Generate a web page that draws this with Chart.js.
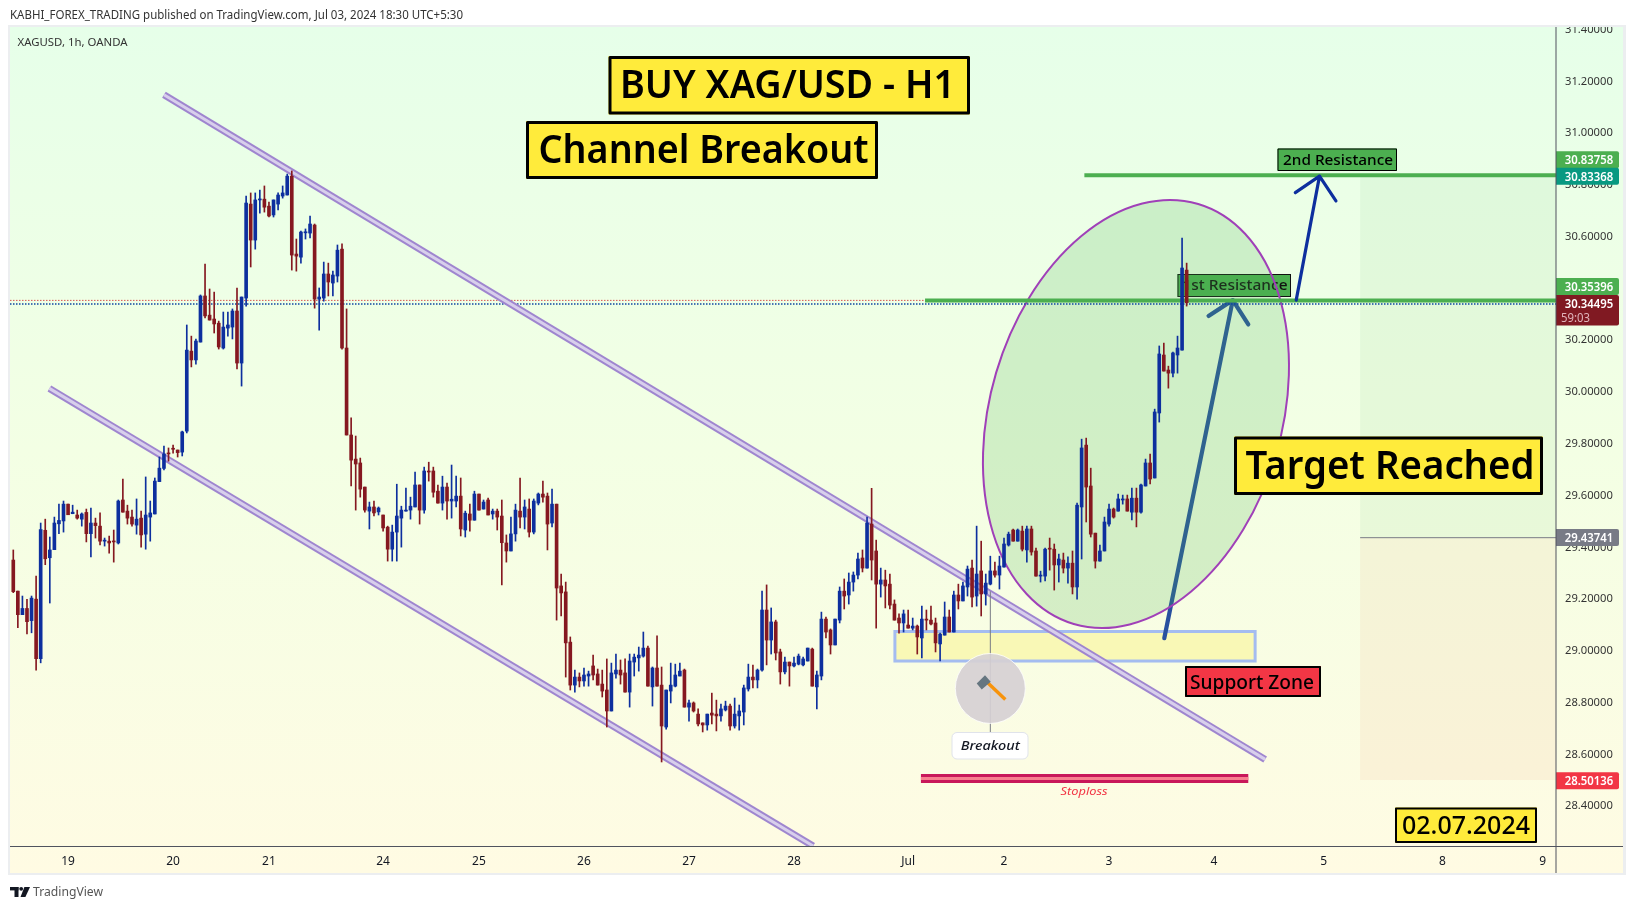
<!DOCTYPE html>
<html>
<head>
<meta charset="utf-8">
<title>XAGUSD 1h</title>
<script src="https://cdn.jsdelivr.net/npm/chart.js@4/dist/chart.umd.js"></script>
<style>
  html, body { margin: 0; padding: 0; background: #fff; }
  canvas { display: block; }
</style>
</head>
<body>
<canvas id="priceChart" width="1634" height="909"></canvas>
<script>
// candles, hourly
const opens = [
  29.351,29.231,29.140,29.164,29.117,29.200,28.970,29.466,29.360,29.391,
  29.491,29.502,29.567,29.530,29.525,29.509,29.535,29.453,29.494,29.482,
  29.424,29.424,29.424,29.417,29.583,29.540,29.517,29.486,29.513,29.451,
  29.517,29.529,29.654,29.705,29.764,29.782,29.776,29.768,29.849,30.158,
  30.124,30.193,30.371,30.297,30.282,30.266,30.170,30.247,30.251,30.313,
  30.112,30.363,30.726,30.587,30.742,30.745,30.718,30.684,30.726,30.757,
  30.761,30.834,30.533,30.521,30.615,30.614,30.645,30.359,30.363,30.456,
  30.421,30.448,30.552,30.170,29.834,29.741,29.726,29.633,29.540,29.556,
  29.537,29.525,29.478,29.393,29.459,29.513,29.540,29.544,29.556,29.641,
  29.544,29.695,29.695,29.617,29.571,29.633,29.579,29.579,29.598,29.467,
  29.529,29.505,29.606,29.548,29.583,29.529,29.540,29.521,29.417,29.386,
  29.452,29.540,29.517,29.548,29.459,29.571,29.606,29.598,29.494,29.567,
  29.251,29.228,29.034,28.868,28.899,28.884,28.903,28.942,28.911,28.872,
  28.849,28.768,28.911,28.926,28.915,28.841,28.957,28.973,28.980,29.011,
  28.861,28.934,28.868,28.706,28.845,28.864,28.903,28.926,28.783,28.799,
  28.756,28.722,28.714,28.760,28.756,28.749,28.772,28.787,28.710,28.749,
  28.764,28.853,28.899,28.888,28.926,29.158,29.042,29.112,28.996,28.919,
  28.957,28.942,28.949,28.946,28.961,29.007,28.861,28.903,29.123,29.081,
  29.023,29.119,29.231,29.216,29.266,29.293,29.359,29.320,29.490,29.386,
  29.258,29.274,29.258,29.181,29.127,29.108,29.100,29.088,29.096,29.050,
  29.123,29.119,29.108,29.027,29.061,29.131,29.073,29.216,29.193,29.247,
  29.320,29.212,29.309,29.220,29.258,29.309,29.293,29.324,29.409,29.467,
  29.424,29.463,29.390,29.471,29.386,29.289,29.289,29.397,29.393,29.332,
  29.351,29.320,29.339,29.247,29.556,29.795,29.637,29.455,29.347,29.386,
  29.490,29.548,29.540,29.583,29.587,29.536,29.590,29.536,29.637,29.726,
  29.668,29.919,30.143,30.085,30.073,30.143,30.162,30.471
];
const closes = [
  29.229,29.140,29.164,29.113,29.204,28.970,29.469,29.356,29.390,29.494,
  29.504,29.567,29.526,29.536,29.513,29.529,29.453,29.494,29.484,29.424,
  29.428,29.417,29.421,29.579,29.536,29.513,29.490,29.509,29.448,29.525,
  29.533,29.656,29.706,29.761,29.761,29.779,29.766,29.846,30.162,30.124,
  30.197,30.371,30.294,30.278,30.263,30.174,30.251,30.259,30.313,30.112,
  30.367,30.730,30.587,30.742,30.745,30.714,30.680,30.742,30.761,30.769,
  30.834,30.529,30.525,30.618,30.619,30.649,30.359,30.367,30.456,30.425,
  30.452,30.548,30.170,29.834,29.737,29.722,29.625,29.544,29.556,29.533,
  29.552,29.475,29.393,29.459,29.521,29.544,29.544,29.559,29.641,29.544,
  29.695,29.691,29.613,29.571,29.633,29.579,29.586,29.598,29.471,29.532,
  29.505,29.606,29.544,29.575,29.525,29.540,29.517,29.418,29.386,29.452,
  29.544,29.517,29.556,29.459,29.579,29.606,29.594,29.490,29.567,29.243,
  29.224,29.031,28.868,28.899,28.884,28.907,28.911,28.907,28.868,28.845,
  28.768,28.915,28.926,28.907,28.841,28.961,28.976,28.984,29.011,28.864,
  28.934,28.864,28.710,28.849,28.868,28.907,28.922,28.783,28.799,28.768,
  28.718,28.714,28.756,28.752,28.749,28.776,28.787,28.710,28.756,28.768,
  28.857,28.899,28.888,28.926,29.158,29.042,29.112,28.992,28.919,28.957,
  28.942,28.953,28.980,28.969,29.011,28.864,28.907,29.123,29.073,29.023,
  29.123,29.231,29.212,29.266,29.293,29.355,29.320,29.494,29.351,29.258,
  29.274,29.251,29.177,29.119,29.108,29.143,29.088,29.096,29.054,29.123,
  29.119,29.104,29.031,29.065,29.131,29.073,29.216,29.193,29.251,29.316,
  29.208,29.297,29.220,29.262,29.309,29.293,29.328,29.413,29.451,29.424,
  29.467,29.393,29.471,29.382,29.289,29.293,29.393,29.393,29.332,29.355,
  29.320,29.339,29.247,29.563,29.784,29.633,29.451,29.347,29.386,29.498,
  29.548,29.517,29.587,29.587,29.540,29.590,29.536,29.641,29.726,29.664,
  29.923,30.147,30.081,30.073,30.151,30.170,30.479,30.345
];
const highs = [
  29.390,29.231,29.212,29.199,29.212,29.289,29.494,29.509,29.440,29.517,
  29.567,29.579,29.567,29.563,29.544,29.533,29.548,29.552,29.513,29.533,
  29.436,29.444,29.467,29.583,29.664,29.563,29.544,29.587,29.540,29.672,
  29.579,29.668,29.749,29.791,29.784,29.795,29.776,29.849,30.259,30.216,
  30.205,30.375,30.494,30.398,30.386,30.274,30.309,30.309,30.321,30.402,
  30.367,30.757,30.769,30.769,30.780,30.796,30.734,30.742,30.769,30.796,
  30.842,30.854,30.591,30.622,30.630,30.680,30.649,30.402,30.502,30.498,
  30.467,30.568,30.572,30.321,29.900,29.830,29.745,29.633,29.575,29.579,
  29.556,29.525,29.482,29.486,29.644,29.559,29.629,29.594,29.691,29.641,
  29.710,29.729,29.710,29.641,29.675,29.648,29.718,29.675,29.668,29.540,
  29.567,29.617,29.606,29.583,29.590,29.548,29.548,29.583,29.448,29.517,
  29.567,29.668,29.583,29.587,29.587,29.610,29.656,29.610,29.625,29.567,
  29.297,29.266,29.054,28.926,28.915,28.934,28.922,28.984,28.930,28.926,
  28.969,28.953,28.988,28.965,28.969,28.988,28.988,29.015,29.073,29.019,
  28.938,29.058,28.938,28.849,28.953,28.949,28.953,28.930,28.810,28.803,
  28.776,28.722,28.756,28.837,28.810,28.795,28.806,28.795,28.818,28.791,
  28.868,28.949,28.945,28.930,29.231,29.255,29.166,29.119,29.007,28.976,
  28.957,28.976,28.988,28.976,29.011,29.011,28.922,29.150,29.131,29.085,
  29.123,29.247,29.278,29.301,29.305,29.378,29.390,29.517,29.628,29.428,
  29.320,29.312,29.297,29.197,29.143,29.158,29.158,29.127,29.100,29.173,
  29.158,29.173,29.127,29.069,29.189,29.158,29.231,29.258,29.266,29.328,
  29.351,29.482,29.424,29.297,29.366,29.343,29.366,29.436,29.459,29.471,
  29.471,29.482,29.482,29.482,29.397,29.308,29.397,29.436,29.413,29.374,
  29.378,29.363,29.386,29.571,29.818,29.822,29.706,29.455,29.409,29.517,
  29.567,29.552,29.606,29.602,29.602,29.629,29.629,29.644,29.741,29.760,
  29.934,30.178,30.189,30.100,30.154,30.216,30.595,30.498
];
const lows = [
  29.225,29.090,29.140,29.066,29.070,28.926,28.954,29.333,29.185,29.391,
  29.453,29.459,29.526,29.530,29.509,29.482,29.421,29.363,29.436,29.409,
  29.405,29.378,29.343,29.413,29.536,29.490,29.482,29.451,29.401,29.393,
  29.424,29.529,29.654,29.699,29.733,29.764,29.749,29.753,29.842,30.097,
  30.108,30.193,30.286,30.278,30.228,30.166,30.166,30.216,30.205,30.089,
  30.023,30.332,30.483,30.552,30.691,30.695,30.676,30.676,30.703,30.749,
  30.761,30.471,30.467,30.498,30.591,30.595,30.324,30.239,30.351,30.371,
  30.371,30.425,30.166,29.834,29.637,29.544,29.594,29.536,29.471,29.521,
  29.525,29.463,29.347,29.347,29.347,29.401,29.540,29.509,29.556,29.490,
  29.532,29.656,29.594,29.571,29.544,29.509,29.513,29.556,29.444,29.440,
  29.463,29.505,29.544,29.548,29.525,29.509,29.467,29.255,29.343,29.386,
  29.424,29.475,29.471,29.440,29.452,29.564,29.575,29.390,29.479,29.119,
  29.135,28.899,28.849,28.841,28.861,28.864,28.864,28.888,28.868,28.822,
  28.706,28.768,28.895,28.872,28.841,28.783,28.903,28.922,28.976,28.864,
  28.787,28.864,28.571,28.698,28.799,28.861,28.903,28.783,28.729,28.764,
  28.710,28.687,28.694,28.718,28.691,28.729,28.768,28.694,28.702,28.694,
  28.714,28.845,28.857,28.857,28.922,28.946,28.988,28.965,28.872,28.911,
  28.864,28.938,28.946,28.942,28.961,28.864,28.776,28.888,29.050,28.988,
  29.023,29.108,29.162,29.181,29.231,29.278,29.305,29.320,29.274,29.088,
  29.208,29.166,29.162,29.119,29.069,29.073,29.088,29.081,28.988,28.973,
  29.081,29.100,28.996,28.961,29.061,29.073,29.073,29.162,29.193,29.212,
  29.170,29.173,29.135,29.177,29.255,29.285,29.239,29.324,29.405,29.424,
  29.424,29.386,29.343,29.370,29.289,29.266,29.270,29.312,29.235,29.266,
  29.301,29.262,29.220,29.200,29.355,29.498,29.440,29.320,29.347,29.386,
  29.482,29.513,29.540,29.567,29.540,29.506,29.479,29.532,29.637,29.645,
  29.668,29.884,30.081,30.015,30.058,30.073,30.162,30.332
];

// x axis: day labels and the bar they sit on
const dayTicks  = [12, 35, 56, 81, 102, 125, 148, 171, 196, 217, 240, 263, 287, 313, 335];
const dayLabels = ['19','20','21','24','25','26','27','28','Jul','2','3','4','5','8','9'];

// drawings, in bar number / price
const upperChannel = [[33.0, 31.148], [274.2, 28.581]];
const lowerChannel = [[7.9, 30.014], [175.2, 28.2465]];
const resistance1  = [[199.7, 30.35396], [337.9, 30.35396]];
const resistance2  = [[234.6, 30.83758], [337.9, 30.83758]];
const stopLine     = [[198.8, 28.507], [270.5, 28.507]];
const lastLineRed  = 30.354;
const lastLineBlue = 30.34;
const firstBar = -0.72, lastBar = 337.9;
const minPrice = 28.2465, maxPrice = 31.41;

const longZoneStart = 295;
const targetPrice = 30.83368, entryPrice = 29.43741, stopPrice = 28.50136;
const supportZone = [193.1, 272, 29.075, 28.961];
const breakoutBar = 214, breakoutPrice = 28.855, breakoutStemTop = 29.23;
const circle = [245.9, 29.915, 31.94, 0.846];
const arrow1 = [[252.1, 29.049], [267.1, 30.355], [261.8, 30.294], [270.5, 30.261]];
const arrow2 = [[281, 30.355], [286.1, 30.834], [280.8, 30.770], [289.7, 30.738]];

const UP = '#0d2f9e', DOWN = '#851820';
const FONT = '"Noto Sans", sans-serif';

function pts(seg) { return seg.map(p => ({ x: p[0], y: p[1] })); }
function line(seg, color, width, dash) {
  return { type: 'line', data: pts(seg), borderColor: color, borderWidth: width, borderDash: dash || [],
           pointRadius: 0, order: 5, borderCapStyle: 'butt' };
}

// text squeezed/stretched to the width measured on the picture
function fit(ctx, text, cx, cy, font, width, color) {
  ctx.save();
  ctx.font = font;
  ctx.fillStyle = color;
  ctx.textAlign = 'center';
  ctx.textBaseline = 'middle';
  const k = width / ctx.measureText(text).width;
  // Noto rides high on a middle baseline
  ctx.translate(cx, cy + parseFloat(font.match(/([\d.]+)px/)[1]) * 0.08);
  ctx.scale(k, 1);
  ctx.fillText(text, 0, 0);
  ctx.restore();
}
function box(ctx, x1, y1, x2, y2, fill, stroke, lw) {
  ctx.fillStyle = fill;
  ctx.fillRect(x1, y1, x2 - x1, y2 - y1);
  if (lw) {
    ctx.strokeStyle = stroke;
    ctx.lineWidth = lw;
    ctx.strokeRect(x1 + lw / 2, y1 + lw / 2, x2 - x1 - lw, y2 - y1 - lw);
  }
}
function arrow(chart, a, color, w) {
  const ctx = chart.ctx, X = chart.scales.x, Y = chart.scales.y;
  const p = a.map(q => [X.getPixelForValue(q[0]), Y.getPixelForValue(q[1])]);
  ctx.strokeStyle = color;
  ctx.lineWidth = w;
  ctx.lineCap = 'round';
  ctx.lineJoin = 'round';
  ctx.beginPath();
  ctx.moveTo(p[0][0], p[0][1]); ctx.lineTo(p[1][0], p[1][1]);
  ctx.moveTo(p[2][0], p[2][1]); ctx.lineTo(p[1][0], p[1][1]); ctx.lineTo(p[3][0], p[3][1]);
  ctx.stroke();
  ctx.lineCap = 'butt';
}
function tag(chart, text, y, h, color) {
  const ctx = chart.ctx;
  ctx.fillStyle = color;
  ctx.beginPath();
  ctx.roundRect(1556, y - h / 2, 63, h, [0, 2, 2, 0]);
  ctx.fill();
  fit(ctx, text, 1589, y, '600 12px ' + FONT, 48.5, '#fff');
}

const drawings = {
  id: 'drawings',
  beforeDraw(chart) {
    const ctx = chart.ctx;
    ctx.fillStyle = '#fff';
    ctx.fillRect(0, 0, 1634, 909);
    ctx.fillStyle = '#eceef0';
    ctx.fillRect(8, 25, 1618, 850);
    const g = ctx.createLinearGradient(0, 27, 0, 873);
    g.addColorStop(0, '#e6ffe9');
    g.addColorStop(0.5, '#f3ffe4');
    g.addColorStop(1, '#fffbe3');
    ctx.fillStyle = g;
    ctx.fillRect(10, 27, 1613, 846);
  },
  beforeDatasetsDraw(chart) {
    const ctx = chart.ctx, X = chart.scales.x, Y = chart.scales.y;
    const x0 = X.getPixelForValue(longZoneStart), xr = X.getPixelForValue(lastBar);
    const yT = Y.getPixelForValue(targetPrice), yE = Y.getPixelForValue(entryPrice), yS = Y.getPixelForValue(stopPrice);
    ctx.fillStyle = 'rgba(76,175,80,0.07)';
    ctx.fillRect(x0, yT, xr - x0, yE - yT);
    ctx.fillStyle = 'rgba(220,110,60,0.07)';
    ctx.fillRect(x0, yE, xr - x0, yS - yE);
    ctx.fillStyle = '#787b86';
    ctx.fillRect(x0, yE - 0.5, xr - x0, 1);

    // support zone
    const sx1 = X.getPixelForValue(supportZone[0]), sx2 = X.getPixelForValue(supportZone[1]);
    const sy1 = Y.getPixelForValue(supportZone[2]), sy2 = Y.getPixelForValue(supportZone[3]);
    ctx.fillStyle = 'rgba(250,240,120,0.42)';
    ctx.fillRect(sx1, sy1, sx2 - sx1, sy2 - sy1);
    ctx.strokeStyle = '#a4bcf0';
    ctx.lineWidth = 3;
    ctx.strokeRect(sx1, sy1, sx2 - sx1, sy2 - sy1);

    // first resistance label and the long arrow sit under the ellipse
    box(ctx, 1177.5, 274, 1291, 297, '#4caf50', '#111', 1);
    fit(ctx, '1st Resistance', 1235, 285, '500 15px ' + FONT, 105, '#111');
    arrow(chart, arrow1, '#28509f', 4.2);

    ctx.save();
    ctx.beginPath();
    ctx.ellipse(X.getPixelForValue(circle[0]), Y.getPixelForValue(circle[1]),
      circle[2] * (X.getPixelForValue(1) - X.getPixelForValue(0)),
      circle[3] * (Y.getPixelForValue(0) - Y.getPixelForValue(1)),
      16.5 * Math.PI / 180, 0, Math.PI * 2);
    ctx.fillStyle = 'rgba(76,175,80,0.2)';
    ctx.fill();
    ctx.strokeStyle = '#a040b8';
    ctx.lineWidth = 2;
    ctx.stroke();
    ctx.restore();
  },
  afterDatasetsDraw(chart) {
    const ctx = chart.ctx, X = chart.scales.x, Y = chart.scales.y;
    arrow(chart, arrow2, '#0d2f9e', 3.2);

    // breakout marker
    const mx = X.getPixelForValue(breakoutBar), my = Y.getPixelForValue(breakoutPrice);
    ctx.fillStyle = '#787b86';
    ctx.fillRect(mx - 0.5, Y.getPixelForValue(breakoutStemTop), 1, my - Y.getPixelForValue(breakoutStemTop));
    ctx.fillRect(mx - 0.5, my, 1, 44);
    ctx.beginPath();
    ctx.arc(mx, my, 35, 0, Math.PI * 2);
    ctx.fillStyle = 'rgba(214,208,212,0.92)';
    ctx.fill();
    ctx.strokeStyle = 'rgba(255,255,255,0.8)';
    ctx.lineWidth = 1;
    ctx.stroke();
    ctx.strokeStyle = '#f7930c';
    ctx.lineWidth = 3.4;
    ctx.beginPath();
    ctx.moveTo(mx - 5, my - 8);
    ctx.lineTo(mx + 15, my + 11);
    ctx.stroke();
    ctx.fillStyle = '#667680';
    ctx.beginPath();
    ctx.moveTo(mx - 13.6, my - 5);
    ctx.lineTo(mx - 5.3, my - 13.3);
    ctx.lineTo(mx + 0.4, my - 6.6);
    ctx.lineTo(mx - 8.6, my + 1);
    ctx.closePath();
    ctx.fill();
    ctx.fillStyle = '#fff';
    ctx.strokeStyle = '#e0e3eb';
    ctx.lineWidth = 1;
    ctx.beginPath();
    ctx.roundRect(952, 732.5, 76, 26.5, 5);
    ctx.fill();
    ctx.stroke();
    fit(ctx, 'Breakout', mx, 745.5, 'italic 500 13px ' + FONT, 59, '#131722');

    fit(ctx, 'Stoploss', 1084, 790.5, 'italic 11px ' + FONT, 47, '#f23645');

    // yellow and coloured text boxes
    box(ctx, 608.5, 56, 970, 114.5, '#ffeb3b', '#000', 3);
    fit(ctx, 'BUY XAG/USD - H1', 787.5, 84, '600 39px ' + FONT, 335, '#000');
    box(ctx, 526, 121, 878, 179, '#ffeb3b', '#000', 3);
    fit(ctx, 'Channel Breakout', 703.5, 149, '600 39px ' + FONT, 330, '#000');
    box(ctx, 1234, 436.5, 1543, 495, '#ffeb3b', '#000', 3);
    fit(ctx, 'Target Reached', 1390, 465, '600 39px ' + FONT, 289, '#000');
    box(ctx, 1185, 666, 1321, 697, '#f23645', '#000', 2);
    fit(ctx, 'Support Zone', 1252, 681.5, '500 20px ' + FONT, 124, '#000');
    box(ctx, 1395, 807.5, 1537, 843, '#ffeb3b', '#000', 2);
    fit(ctx, '02.07.2024', 1466, 824.5, '500 25px ' + FONT, 128, '#000');
    box(ctx, 1277.5, 148.5, 1397, 171, '#4caf50', '#000', 1);
    fit(ctx, '2nd Resistance', 1338, 160, '500 15px ' + FONT, 110, '#000');

    // price tags on the axis
    tag(chart, '30.83758', 159.7, 17, '#4caf50');
    tag(chart, '30.83368', 176.3, 17, '#089981');
    tag(chart, '30.35396', 286.6, 17, '#4caf50');
    ctx.fillStyle = '#801922';
    ctx.beginPath();
    ctx.roundRect(1556, 295, 63, 30.5, [0, 2, 2, 0]);
    ctx.fill();
    fit(ctx, '30.34495', 1589, 303.5, '600 12px ' + FONT, 48.5, '#fff');
    fit(ctx, '59:03', 1575.5, 317.7, '12px ' + FONT, 29, '#e0b4ba');
    tag(chart, '29.43741', 537.6, 17, '#787b86');
    tag(chart, '28.50136', 780.7, 17, '#f23645');
  },
  afterDraw(chart) {
    const ctx = chart.ctx;
    // axis frame lines
    ctx.fillStyle = '#50535e';
    ctx.fillRect(1555.5, 27, 1, 846);
    ctx.fillRect(10, 846, 1613, 1);
    // hides the clipped top of the 31.4 tick
    ctx.fillStyle = '#fff';
    ctx.fillRect(0, 0, 1634, 25);
    ctx.fillStyle = '#eceef0';
    ctx.fillRect(8, 25, 1618, 2);

    fit(ctx, 'KABHI_FOREX_TRADING published on TradingView.com, Jul 03, 2024 18:30 UTC+5:30',
      236.5, 14.5, '12px ' + FONT, 453, '#333');
    fit(ctx, 'XAGUSD, 1h, OANDA', 72.5, 41.5, '11px ' + FONT, 110, '#333');

    // footer logo + name
    ctx.fillStyle = '#131722';
    ctx.fillRect(10, 887, 8.5, 3.4);
    ctx.fillRect(14.5, 887, 4, 10);
    ctx.beginPath();
    ctx.arc(21.2, 888.8, 1.9, 0, Math.PI * 2);
    ctx.fill();
    ctx.beginPath();
    ctx.moveTo(24.4, 887);
    ctx.lineTo(30, 887);
    ctx.lineTo(25.4, 897);
    ctx.lineTo(20.5, 897);
    ctx.closePath();
    ctx.fill();
    fit(ctx, 'TradingView', 68, 891.5, '13px ' + FONT, 70, '#555');
  }
};

const wickData = highs.map((h, i) => ({ x: i, y: [lows[i], h] }));
const bodyData = opens.map((o, i) => ({ x: i, y: [o, closes[i]] }));
const barColors = opens.map((o, i) => (closes[i] >= o ? UP : DOWN));

new Chart(document.getElementById('priceChart'), {
  type: 'bar',
  data: {
    // same order: the earlier dataset ends up on top
    datasets: [
      line(upperChannel, '#d8cfec', 3),
      line(upperChannel, '#9f86cf', 7),
      line(lowerChannel, '#d8cfec', 3),
      line(lowerChannel, '#9f86cf', 7),
      line(resistance1, '#4caf50', 4),
      line(resistance2, '#4caf50', 4),
      line([[firstBar, lastLineBlue], [lastBar, lastLineBlue]], '#0d47a1', 1.4, [1.5, 1.5]),
      line([[firstBar, lastLineRed], [lastBar, lastLineRed]], '#d9534f', 1, [1.5, 1.5]),
      line(stopLine, '#f77f8f', 3),
      line(stopLine, '#c8185a', 9),
      { data: wickData, backgroundColor: barColors, borderWidth: 0, barThickness: 1, grouped: false, order: 2 },
      { data: bodyData, backgroundColor: barColors, borderWidth: 0, barThickness: 3, minBarLength: 1, grouped: false, order: 1 }
    ]
  },
  options: {
    responsive: false,
    animation: false,
    layout: { padding: { left: 10, top: 27, right: 11, bottom: 36 } },
    plugins: { legend: { display: false }, tooltip: { enabled: false } },
    scales: {
      x: {
        type: 'linear',
        offset: false,
        min: firstBar,
        max: lastBar,
        grid: { display: false, drawTicks: false },
        border: { display: false },
        afterBuildTicks: s => { s.ticks = dayTicks.map(v => ({ value: v })); },
        afterFit: s => { s.height = 27; },
        ticks: {
          autoSkip: false,
          maxRotation: 0,
          padding: 8,
          color: '#131722',
          font: { family: 'Noto Sans', size: 12 },
          callback: v => dayLabels[dayTicks.indexOf(v)]
        }
      },
      y: {
        position: 'right',
        min: minPrice,
        max: maxPrice,
        grid: { display: false, drawTicks: false },
        border: { display: false },
        afterFit: s => { s.width = 67; },
        ticks: {
          stepSize: 0.2,
          includeBounds: false,
          autoSkip: false,
          padding: 9,
          color: '#333',
          font: { family: 'Noto Sans', size: 11.2 },
          callback: v => v.toFixed(5)
        }
      }
    }
  },
  plugins: [drawings]
});
</script>
</body>
</html>
